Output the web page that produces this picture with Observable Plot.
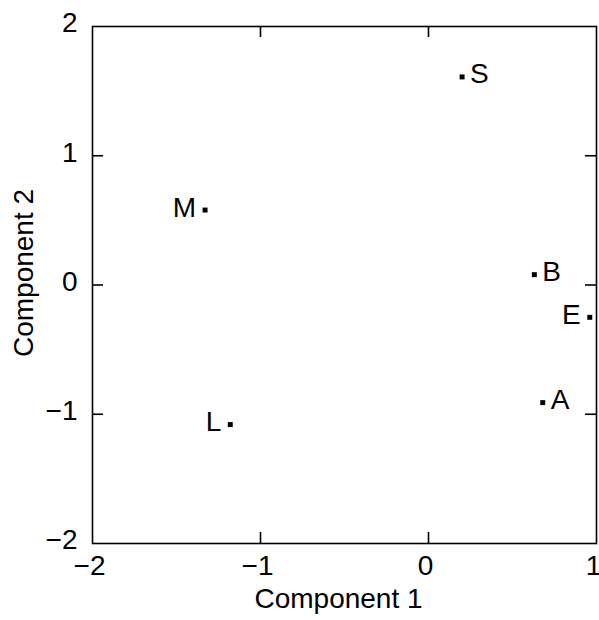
<!DOCTYPE html>
<html>
<head>
<meta charset="utf-8">
<script src="https://cdn.jsdelivr.net/npm/d3@7"></script>
<script src="https://cdn.jsdelivr.net/npm/@observablehq/plot@0.6"></script>
<style>
  html, body { margin: 0; padding: 0; background: #fff; }
  svg { display: block; }
</style>
</head>
<body>
<div id="chart"></div>
<script>
// Data
const names = ["S", "M", "B", "E", "A", "L"];
const comp1 = [0.20, -1.33, 0.63, 0.96, 0.68, -1.18];
const comp2 = [1.61, 0.58, 0.08, -0.25, -0.91, -1.08];
const rightLabeled = ["S", "B", "A"];

const xTicks = [-2, -1, 0, 1];
const yTicks = [-2, -1, 0, 1, 2];
const xInner = [-1, 0];
const yInner = [-1, 0, 1];

const points = names.map((n, i) => ({name: n, x: comp1[i], y: comp2[i]}));

const W = 599, H = 620;
const mL = 92, mT = 26, mR = 3, mB = 77;
const frameW = W - mL - mR, frameH = H - mT - mB;
const tickLen = 11;
const font = "'Liberation Sans', Arial, Helvetica, sans-serif";
const fmt = d3.format("d");

const chart = Plot.plot({
  width: W,
  height: H,
  marginLeft: mL,
  marginTop: mT,
  marginRight: mR,
  marginBottom: mB,
  style: {fontFamily: font, background: "#fff", color: "#000"},
  x: {domain: [-2, 1]},
  y: {domain: [-2, 2]},
  marks: [
    Plot.frame({stroke: "#000", strokeWidth: 1.6}),
    Plot.axisX(xTicks, {tickSize: 0, tickPadding: 12, dx: -3, fontSize: 28, tickFormat: fmt, label: null}),
    Plot.axisY(yTicks, {tickSize: 0, tickPadding: 15, dy: -3, fontSize: 28, tickFormat: fmt, label: null}),
    // inward ticks on all four sides
    Plot.tickX(xInner, {x: d => d, insetTop: frameH - tickLen, stroke: "#000", strokeWidth: 1.6}),
    Plot.tickX(xInner, {x: d => d, insetBottom: frameH - tickLen, stroke: "#000", strokeWidth: 1.6}),
    Plot.tickY(yInner, {y: d => d, insetRight: frameW - tickLen, stroke: "#000", strokeWidth: 1.6}),
    Plot.tickY(yInner, {y: d => d, insetLeft: frameW - tickLen, stroke: "#000", strokeWidth: 1.6}),
    // axis titles
    Plot.text(["Component 1"], {frameAnchor: "bottom", textAnchor: "middle", dx: -6, dy: 45, lineAnchor: "top", fontSize: 28, text: d => d, fill: "#000"}),
    Plot.text(["Component 2"], {frameAnchor: "left", textAnchor: "middle", dx: -79, dy: -12, rotate: -90, lineAnchor: "top", fontSize: 28, text: d => d, fill: "#000"}),
    // points
    Plot.dot(points, {x: "x", y: "y", symbol: "square", r: 2.8, fill: "#000", stroke: null}),
    Plot.text(points.filter(d => rightLabeled.includes(d.name)), {x: "x", y: "y", text: "name", textAnchor: "start", dx: 8, dy: -2.5, fontSize: 28, fill: "#000"}),
    Plot.text(points.filter(d => !rightLabeled.includes(d.name)), {x: "x", y: "y", text: "name", textAnchor: "end", dx: -9, dy: -2.5, fontSize: 28, fill: "#000"})
  ]
});
document.getElementById("chart").appendChild(chart);
</script>
</body>
</html>
